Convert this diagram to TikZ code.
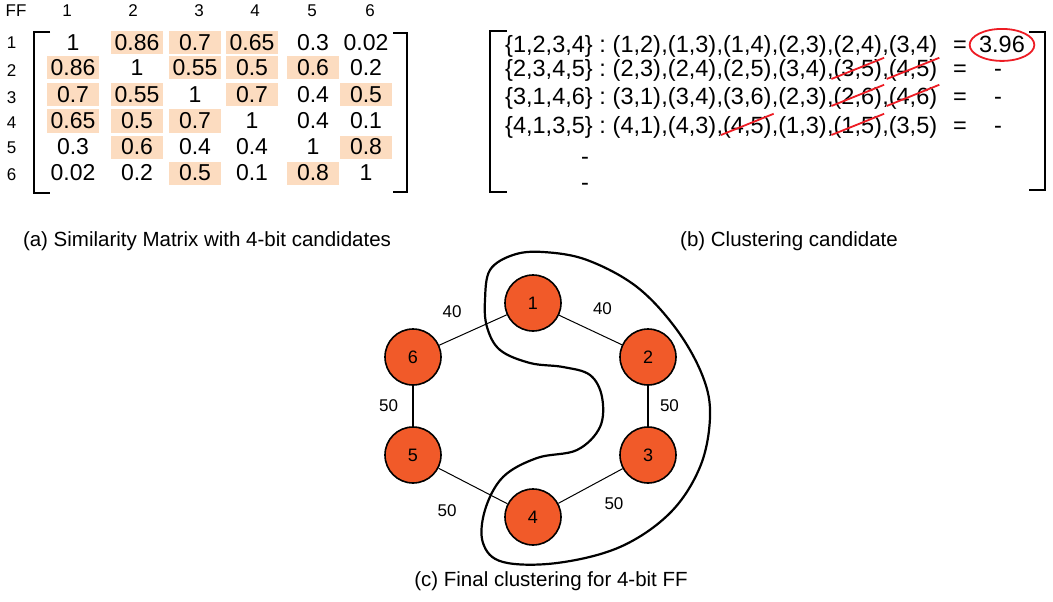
\documentclass[tikz,border=0pt]{standalone}
\usepackage{fontspec}
\setmainfont{Liberation Sans}
\usetikzlibrary{positioning,shapes.geometric}

\definecolor{ffred}{RGB}{241,90,41}
\definecolor{hlpeach}{RGB}{252,220,192}
\definecolor{markred}{RGB}{237,28,36}

\newcommand\matfont{\fontsize{23}{27}\selectfont}
\newcommand\candfont{\fontsize{23.5}{28}\selectfont}
\newcommand\captfont{\fontsize{20.5}{24}\selectfont}
\newcommand\hdrfont{\fontsize{17}{20}\selectfont}
\newcommand\wfont{\fontsize{17}{20}\selectfont}

\tikzset{
	mcell/.style={font=\matfont, inner sep=0pt, minimum width=52pt, minimum height=23pt},
	mhl/.style={mcell, fill=hlpeach},
	hdr/.style={font=\hdrfont, inner sep=0pt},
	brk/.style={line width=2.5pt},
	cand/.style={font=\candfont, inner sep=0pt, anchor=base west},
	strikeline/.style={draw=markred, line width=1.8pt},
	capt/.style={font=\captfont, inner sep=0pt},
	ffnode/.style={circle, draw, line width=1.6pt, fill=ffred, minimum size=56pt, inner sep=0pt, font=\fontsize{18}{20}\selectfont},
	wire/.style={line width=1pt},
	wirebold/.style={line width=2pt},
	wlab/.style={font=\wfont, inner sep=0pt},
	cluster/.style={line width=2.2pt}
}

\begin{document}
\begin{tikzpicture}[x=1pt,y=-1pt]
	\useasboundingbox (0,0) rectangle (1053,602);

	% (a) similarity matrix
	\node[hdr] (hff) at (16,11) {FF};
	\foreach \xx [count=\c] in {67,133,199,255,312,370}
		\node[hdr] (hc\c) at (\xx,11) {\c};
	\foreach \yy [count=\r] in {43,71,98,123,148,175}
		\node[hdr] (hr\r) at (11.5,\yy) {\r};

	\foreach \xx/\vv/\ss [count=\c] in {73/1/mcell,137/0.86/mhl,195/0.7/mhl,252/0.65/mhl,313/0.3/mcell,366/0.02/mcell}
		\node[\ss] (m1\c) at (\xx,43) {\vv};
	\foreach \xx/\vv/\ss [count=\c] in {73/0.86/mhl,137/1/mcell,195/0.55/mhl,252/0.5/mhl,313/0.6/mhl,366/0.2/mcell}
		\node[\ss] (m2\c) at (\xx,68) {\vv};
	\foreach \xx/\vv/\ss [count=\c] in {73/0.7/mhl,137/0.55/mhl,195/1/mcell,252/0.7/mhl,313/0.4/mcell,366/0.5/mhl}
		\node[\ss] (m3\c) at (\xx,95) {\vv};
	\foreach \xx/\vv/\ss [count=\c] in {73/0.65/mhl,137/0.5/mhl,195/0.7/mhl,252/1/mcell,313/0.4/mcell,366/0.1/mcell}
		\node[\ss] (m4\c) at (\xx,121) {\vv};
	\foreach \xx/\vv/\ss [count=\c] in {73/0.3/mcell,137/0.6/mhl,195/0.4/mcell,252/0.4/mcell,313/1/mcell,366/0.8/mhl}
		\node[\ss] (m5\c) at (\xx,147) {\vv};
	\foreach \xx/\vv/\ss [count=\c] in {73/0.02/mcell,137/0.2/mcell,195/0.5/mhl,252/0.1/mcell,313/0.8/mhl,366/1/mcell}
		\node[\ss] (m6\c) at (\xx,173) {\vv};

	\draw[brk] (50,32) -- (34,32) -- (34,193) -- (50,193);
	\draw[brk] (393,33) -- (407,33) -- (407,192) -- (393,192);

	\node[capt] (capa) at (207,241) {(a) Similarity Matrix with 4-bit candidates};

	% (b) clustering candidates
	\node[cand] (c10) at (505,53) {\{1,2,3,4\} :};
	\foreach \t [count=\k, remember=\k as \j (initially 0)] in {{(1,2)},{(1,3)},{(1,4)},{(2,3)},{(2,4)},{(3,4)}}
		\node[cand, base right=6.5pt of c1\j] (c1\k) {\ifnum\k>1 \llap{,}\fi\t};
	\node[cand] (c20) at (505,77) {\{2,3,4,5\} :};
	\foreach \t [count=\k, remember=\k as \j (initially 0)] in {{(2,3)},{(2,4)},{(2,5)},{(3,4)},{(3,5)},{(4,5)}}
		\node[cand, base right=6.5pt of c2\j] (c2\k) {\ifnum\k>1 \llap{,}\fi\t};
	\node[cand] (c30) at (505,104) {\{3,1,4,6\} :};
	\foreach \t [count=\k, remember=\k as \j (initially 0)] in {{(3,1)},{(3,4)},{(3,6)},{(2,3)},{(2,6)},{(4,6)}}
		\node[cand, base right=6.5pt of c3\j] (c3\k) {\ifnum\k>1 \llap{,}\fi\t};
	\node[cand] (c40) at (505,133) {\{4,1,3,5\} :};
	\foreach \t [count=\k, remember=\k as \j (initially 0)] in {{(4,1)},{(4,3)},{(4,5)},{(1,3)},{(1,5)},{(3,5)}}
		\node[cand, base right=6.5pt of c4\j] (c4\k) {\ifnum\k>1 \llap{,}\fi\t};

	\foreach \yy [count=\r] in {53,77,104,133}
		\node[cand, anchor=base] (eq\r) at (960,\yy) {=};
	\node[cand, anchor=base, draw=markred, ellipse, line width=1.8pt, inner sep=0pt, minimum width=60pt, minimum height=32pt] (val1) at (1002,53) {3.96};
	\node[cand, anchor=base] (val2) at (998,77) {-};
	\node[cand, anchor=base] (val3) at (998,104) {-};
	\node[cand, anchor=base] (val4) at (998,133) {-};
	\node[cand, anchor=base] (dot1) at (585,164) {-};
	\node[cand, anchor=base] (dot2) at (585,190) {-};

	% crossed-out pairs
	\foreach \p in {c25,c26,c35,c36,c43,c45}
		\draw[strikeline] ([xshift=-2pt,yshift=-2pt]\p.base west) -- ([xshift=2pt,yshift=2pt]\p.north east);

	\draw[brk] (507,31) -- (490,31) -- (490,192) -- (507,192);
	\draw[brk] (1029,32) -- (1045,32) -- (1045,190) -- (1029,190);

	\node[capt] (capb) at (789,241) {(b) Clustering candidate};

	% (c) final clustering
	\draw[cluster] plot[smooth cycle, tension=0.6] coordinates {(485,300) (490,270) (513,255) (543,252) (587,260) (637,287) (677,330) (703,377) (710,417) (700,467) (670,513) (620,547) (557,563) (503,562) (483,543) (485,510) (503,477) (537,458) (577,450) (600,427) (602,397) (590,375) (563,367) (530,363) (500,350) (487,327)};

	\node[ffnode] (n1) at (533,303) {1};
	\node[ffnode] (n2) at (648,357) {2};
	\node[ffnode] (n3) at (648,455) {3};
	\node[ffnode] (n4) at (533,517) {4};
	\node[ffnode] (n5) at (413,455) {5};
	\node[ffnode] (n6) at (413,357) {6};

	\draw[wire] (n6) -- node[wlab, above left=11.5pt and 11pt] (l61) {40} (n1);
	\draw[wire] (n1) -- node[wlab, above right=15pt and 2pt] (l12) {40} (n2);
	\draw[wirebold] (n2) -- node[wlab, right=11pt] (l23) {50} (n3);
	\draw[wire] (n3) -- node[wlab, below right=11.5pt and 13.5pt] (l34) {50} (n4);
	\draw[wire] (n4) -- node[wlab, below left=18.5pt and 16pt] (l45) {50} (n5);
	\draw[wirebold] (n5) -- node[wlab, left=14pt] (l56) {50} (n6);

	\node[capt] (capc) at (551,581) {(c) Final clustering for 4-bit FF};
\end{tikzpicture}
\end{document}
